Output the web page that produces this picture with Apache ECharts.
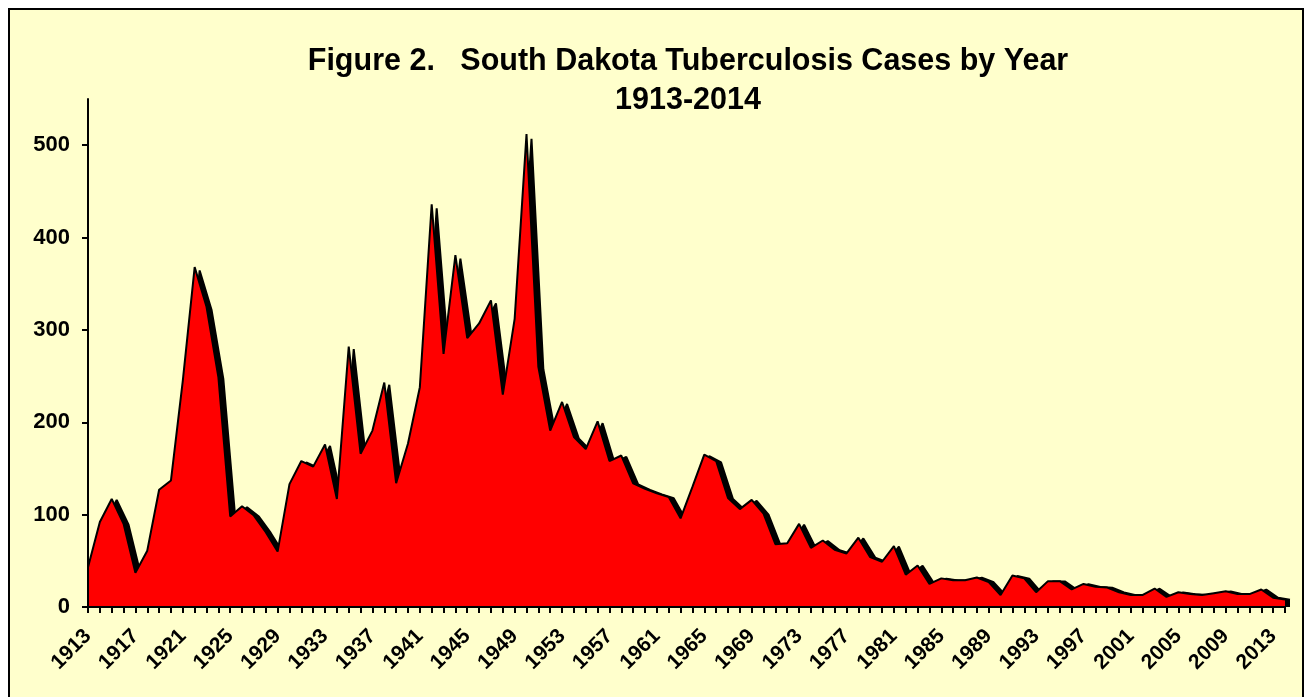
<!DOCTYPE html>
<html><head><meta charset="utf-8">
<script src="https://cdn.jsdelivr.net/npm/echarts@6/dist/echarts.min.js"></script>
<style>html,body{margin:0;padding:0;background:#fff}#c{width:1308px;height:697px}</style>
</head><body><div id="c"></div>
<script>
const years = ['1913','1914','1915','1916','1917','1918','1919','1920','1921','1922',
  '1923','1924','1925','1926','1927','1928','1929','1930','1931','1932',
  '1933','1934','1935','1936','1937','1938','1939','1940','1941','1942',
  '1943','1944','1945','1946','1947','1948','1949','1950','1951','1952',
  '1953','1954','1955','1956','1957','1958','1959','1960','1961','1962',
  '1963','1964','1965','1966','1967','1968','1969','1970','1971','1972',
  '1973','1974','1975','1976','1977','1978','1979','1980','1981','1982',
  '1983','1984','1985','1986','1987','1988','1989','1990','1991','1992',
  '1993','1994','1995','1996','1997','1998','1999','2000','2001','2002',
  '2003','2004','2005','2006','2007','2008','2009','2010','2011','2012',
  '2013','2014'];
const cases = [43, 92, 117, 90, 37, 61, 127, 137, 245, 368,
  325, 249, 98, 109, 99, 81, 60, 133, 158, 152,
  176, 117, 282, 166, 191, 243, 134, 177, 238, 436,
  274, 381, 291, 307, 332, 230, 312, 512, 260, 191,
  222, 184, 171, 201, 158, 164, 134, 128, 123, 119,
  96, 130, 165, 158, 118, 106, 116, 101, 68, 69,
  90, 64, 72, 62, 58, 75, 54, 49, 66, 35,
  45, 25, 31, 29, 29, 32, 27, 13, 34, 31,
  16, 28, 28, 19, 25, 22, 21, 16, 13, 13,
  20, 11, 16, 14, 13, 15, 17, 14, 14, 19,
  10, 8];
const yTicks = [0, 100, 200, 300, 400, 500];
const titleLines = ['Figure 2.   South Dakota Tuberculosis Cases by Year', '1913-2014'];

const FONT = '"Liberation Sans", Arial, sans-serif';
const chart = echarts.init(document.getElementById('c'));
const option = {
  animation: false,
  backgroundColor: '#ffffff',
  graphic: [
    {type: 'rect', z: -100, silent: true, shape: {x: 9, y: 9, width: 1294, height: 700},
     style: {fill: '#FFFFCC', stroke: '#000', lineWidth: 2}},
    {type: 'text', z: 100, style: {text: titleLines[0], x: 688, y: 62, fill: '#000',
      font: 'bold 30.5px ' + FONT, textAlign: 'center', textVerticalAlign: 'middle'}},
    {type: 'text', z: 100, style: {text: titleLines[1], x: 688, y: 101, fill: '#000',
      font: 'bold 30.5px ' + FONT, textAlign: 'center', textVerticalAlign: 'middle'}}
  ],
  grid: [
    {left: 88, right: 23, top: 99, bottom: 90},
    {left: 93, right: 18, top: 104, bottom: 90}
  ],
  xAxis: [
    {gridIndex: 0, type: 'category', data: years, boundaryGap: false, z: 10,
     axisLine: {lineStyle: {color: '#000', width: 2}},
     axisTick: {show: true, interval: 0, length: 6, lineStyle: {color: '#000', width: 2}},
     axisLabel: {interval: 3, rotate: 45, margin: 26, color: '#000', fontFamily: FONT,
                 fontWeight: 'bold', fontSize: 21},
     splitLine: {show: false}},
    {gridIndex: 1, type: 'category', data: years, boundaryGap: false, show: false}
  ],
  yAxis: [
    {gridIndex: 0, type: 'value', min: 0, max: 550, z: 10,
     axisLine: {show: true, lineStyle: {color: '#000', width: 2}},
     axisTick: {show: true, length: 6, customValues: yTicks, lineStyle: {color: '#000', width: 2}},
     axisLabel: {customValues: yTicks, margin: 18, color: '#000', fontFamily: FONT,
                 fontWeight: 'bold', fontSize: 22},
     splitLine: {show: false}},
    {gridIndex: 1, type: 'value', min: 0, max: 550, show: false}
  ],
  series: [
    {type: 'line', xAxisIndex: 1, yAxisIndex: 1, data: cases, symbol: 'none', z: 1,
     lineStyle: {color: '#000', width: 2}, areaStyle: {color: '#000', opacity: 1}},
    {type: 'line', xAxisIndex: 0, yAxisIndex: 0, data: cases, symbol: 'none', z: 2,
     lineStyle: {color: '#000', width: 2}, areaStyle: {color: '#FF0000', opacity: 1}}
  ]
};
chart.setOption(option);
</script>
</body></html>
